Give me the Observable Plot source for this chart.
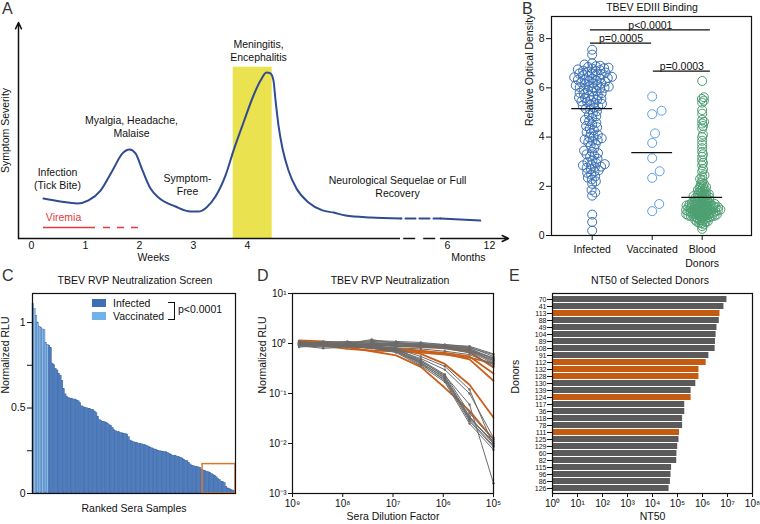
<!DOCTYPE html>
<html><head><meta charset="utf-8">
<script src="https://cdn.jsdelivr.net/npm/d3@7"></script>
<script src="https://cdn.jsdelivr.net/npm/@observablehq/plot@0.6"></script>
<style>
body{margin:0;background:#fff;font-family:"Liberation Sans",Arial,sans-serif;}
#fig{position:relative;width:760px;height:524px;overflow:hidden;background:#fff;}
.plet{position:absolute;font-size:16px;color:#333;line-height:1;}
.ttl{position:absolute;font-size:10.5px;color:#111;transform:translate(-50%,-50%);white-space:nowrap;line-height:1;}
.leg{position:absolute;font-size:10.5px;color:#111;line-height:1;transform:translateY(-50%);white-space:nowrap;}
.sw{position:absolute;}
svg{position:absolute;overflow:visible;}
</style></head><body><div id="fig"></div>
<script>
// ---------------- DATA ----------------
// Panel A (schematic disease course), x in weeks, y in arbitrary severity units
const aCurveWeek = [0.222,0.537,0.852,1.056,1.278,1.5,1.685,1.815,1.926,2.056,2.204,2.352,2.667,2.944,3.093,3.241,3.407,3.593,3.741,3.926,4.111,4.241,4.352,4.426,4.481,4.519,4.574,4.648,4.759,4.907,5.13,5.389,5.593,5.815,6.278,6.833];
const aCurveSev  = [1.85,1.71,1.62,1.76,2.22,3.15,3.94,4.12,3.94,3.15,2.31,1.90,1.48,1.25,1.25,1.44,1.94,2.92,4.07,5.37,6.62,7.31,7.69,7.64,7.31,6.39,5.23,4.17,3.15,2.31,1.67,1.30,1.20,1.06,0.97,0.93];
const aTailWeek = [7.574, 8.31];
const aTailSev  = [0.93, 0.83];
const aPhaseWeeks = [3.735, 4.457];   // meningitis/encephalitis phase
const aPhaseTop = 7.93;
const aViremiaSolid = [0.222, 1.185];
const aViremiaDashed = [1.333, 1.98];
const aViremiaLevel = 0.51;
const aAxisBreak = [6.833, 7.574];
const aXDomain = [-0.2407, 8.833];
const aTickPos = [0,1,2,3,4,7.7,8.48];
const aTickLabels = ["0","1","2","3","4","6","12"];
const aNoteText = ["Meningitis,\nEncephalitis","Myalgia, Headache,\nMalaise","Infection\n(Tick Bite)","Symptom-\nFree","Neurological Sequelae or Full\nRecovery"];
const aNoteWeek = [4.204, 1.852, 0.481, 2.889, 6.778];
const aNoteSev  = [8.73, 5.21, 2.80, 2.52, 2.43];

// Panel B (EDIII binding)
const bGroupLabels = ["Infected","Vaccinated","Blood\nDonors"];
const bGroupPos = [1, 2, 2.833];
const bInfected = [7.55,7.35,7.0,
 6.95,6.9,6.88,6.85,6.82,6.8,6.78,6.75,6.72,6.7,6.68,6.65,6.62,6.6,6.58,6.55,6.52,6.5,
 6.48,6.45,6.43,6.4,6.38,6.35,6.33,6.3,6.28,6.25,6.22,6.2,6.18,6.15,6.12,6.1,6.08,6.05,6.03,6.02,6.0,6.38,
 5.98,5.95,5.9,5.88,5.85,5.8,5.78,5.75,5.7,5.68,5.65,5.6,5.58,5.55,5.52,5.5,
 5.45,5.42,5.38,5.35,5.3,5.28,5.25,5.2,5.15,5.12,
 5.05,4.98,4.9,4.85,4.78,4.7,4.65,4.58,4.52,
 4.45,4.4,4.35,4.28,4.2,4.15,4.1,4.02,
 3.98,3.95,3.9,3.88,3.85,3.8,3.72,3.65,3.55,
 3.45,3.4,3.35,3.3,3.25,3.2,3.12,3.05,
 2.98,2.95,2.9,2.88,2.85,2.8,2.78,2.75,2.7,2.65,2.6,2.55,
 2.48,2.4,2.35,2.28,2.2,2.1,
 1.85,1.75,1.62,
 0.85,0.55,0.2];
const bVaccinated = [5.65,4.93,5.07,4.15,3.76,3.14,2.34,2.61,1.28,0.99];
const bDonors = [6.28,5.62,5.55,5.48,5.4,5.1,4.95,4.7,4.62,4.55,4.45,4.35,4.1,4.0,3.85,3.7,3.55,3.4,3.3,3.2,3.05,2.95,2.85,2.7,2.6,2.45,2.4,2.3,2.25,2.15,2.1,2.05,
 2.0,1.97,1.94,1.9,1.88,1.85,1.82,1.8,1.77,1.74,1.72,
 1.7,1.68,1.66,1.64,1.62,1.6,1.58,1.56,1.55,1.53,1.51,1.5,1.48,1.46,1.45,1.43,1.42,1.4,1.38,1.37,1.35,1.34,1.32,1.31,1.3,
 1.29,1.28,1.27,1.26,1.25,1.24,1.23,1.22,1.21,1.2,1.19,1.18,1.17,1.16,1.15,1.14,1.13,1.12,1.11,1.1,1.09,1.08,1.07,1.06,1.05,1.04,1.03,1.02,1.01,1.0,0.99,0.98,0.97,0.96,0.95,0.94,0.93,0.92,0.91,0.9,1.12,1.05,0.98,1.18,1.02,
 0.89,0.88,0.87,0.86,0.85,0.84,0.83,0.82,0.81,0.8,0.79,0.78,0.77,0.76,0.75,0.74,0.72,0.7,0.68,0.66,0.64,0.62,0.6,0.58,0.56,0.54,0.52,0.5,0.85,0.78,
 0.45,0.38,0.27];
const bCenterLines = [5.16, 3.37, 1.55];
const bSigLabels = ["p<0.0001","p=0.0005","p=0.0003"];
const bSigFrom = [0.97, 0.97, 2.02];
const bSigTo   = [2.97, 1.99, 2.97];
const bSigY    = [8.36, 7.82, 6.68];

// Panel C (ranked neutralization screen)
const cValues = [1.11,1.08,1.04,1.0,0.975,0.97,0.96,0.955,0.88,0.87,0.865,0.85,0.76,0.75,0.73,0.72,0.70,0.69,0.66,0.61,
 0.58,0.565,0.56,0.555,0.555,0.55,0.55,0.545,0.54,0.53,0.51,0.505,0.50,0.50,0.495,0.495,0.49,0.49,0.48,0.47,
 0.45,0.43,0.425,0.42,0.418,0.415,0.41,0.40,0.395,0.385,0.37,0.365,0.36,0.358,0.355,0.352,0.35,0.348,0.345,0.33,
 0.31,0.305,0.30,0.298,0.295,0.292,0.29,0.288,0.285,0.282,0.28,0.275,0.27,0.265,0.26,0.258,0.255,0.25,0.248,0.246,
 0.245,0.243,0.241,0.238,0.232,0.228,0.222,0.22,0.218,0.215,0.212,0.21,0.205,0.198,0.192,0.19,0.18,0.17,0.163,0.16,
 0.157,0.155,0.153,0.15,0.14,0.135,0.132,0.128,0.124,0.122,0.115,0.108,0.104,0.095,0.085,0.08,0.07,0.066,0.062,0.04,
 0.03,0.027,0.022,0.018,0.015];
const cVaccinatedRanks = [0,1,2,3,4,5,6,7,8,9];
const cHighlight = {from: 104.7, to: 125, top: 0.172};

// Panel D (neutralization curves)
const dDilutions = [7.4e8, 2.45e8, 8.1e7, 2.65e7, 8.7e6, 2.8e6, 9.3e5, 3.0e5, 1e5];
const dGray = [
 [1.0,0.95,0.93,0.9,0.75,0.45,0.22,0.035,0.010],
 [0.95,1.0,0.9,0.85,0.7,0.42,0.2,0.03,0.009],
 [1.05,0.98,0.95,0.88,0.72,0.40,0.18,0.028,0.0085],
 [0.9,0.92,0.88,0.8,0.68,0.38,0.19,0.032,0.011],
 [1.1,1.0,0.97,0.92,0.78,0.47,0.24,0.04,0.012],
 [0.98,0.9,0.85,0.82,0.66,0.36,0.17,0.025,0.0075],
 [1.0,0.96,0.9,0.86,0.7,0.44,0.23,0.06,0.0016],
 [0.92,0.94,0.9,0.84,0.74,0.5,0.3,0.1,0.013],
 [1.02,0.97,0.92,0.9,0.8,0.55,0.35,0.12,0.009],
 [0.96,0.93,0.89,0.86,0.7,0.41,0.21,0.033,0.010],
 [1.05,1.0,0.98,1.1,1.05,1.0,0.95,0.85,0.55],
 [1.0,0.95,1.0,1.2,1.0,0.98,0.9,0.8,0.5],
 [0.95,1.1,1.05,1.0,1.02,0.95,0.92,0.82,0.6],
 [1.1,1.0,0.95,0.95,0.9,0.9,0.85,0.75,0.45],
 [0.9,0.85,0.9,1.0,0.98,0.92,0.88,0.78,0.48],
 [1.0,1.05,1.1,1.05,1.0,0.95,0.9,0.7,0.4],
 [1.05,0.97,0.92,0.95,0.92,0.88,0.8,0.65,0.35],
 [0.85,0.9,0.95,0.9,0.88,0.85,0.82,0.72,0.52],
 [1.0,1.0,1.0,1.15,1.1,1.05,0.95,0.88,0.62],
 [0.95,0.92,0.88,0.85,0.82,0.78,0.7,0.6,0.38],
 [1.02,0.98,0.96,0.98,0.95,0.9,0.85,0.75,0.42],
 [0.9,0.8,0.85,0.92,0.9,0.87,0.83,0.7,0.46]];
const dOrange = [
 [1.1,1.05,0.85,0.7,0.58,0.34,0.13,0.045,0.012],
 [1.0,0.95,0.9,0.85,0.78,0.62,0.39,0.15,0.033],
 [1.15,1.1,0.95,0.85,0.8,0.72,0.62,0.48,0.18],
 [1.05,1.0,0.9,0.8,0.75,0.7,0.65,0.55,0.25],
 [1.1,1.08,1.0,0.95,0.9,0.85,0.8,0.68,0.33],
 [0.95,0.9,0.78,0.72,0.7,0.66,0.6,0.52,0.4]];

// Panel E (NT50)
const eDonors = ["70","41","113","88","49","104","89","108","91","112","132","128","130","139","124","117","36","118","78","111","125","129","60","82","115","96","86","126"];
const eNT50 = [9.5e6,7.2e6,5.0e6,4.7e6,3.8e6,3.5e6,3.3e6,3.2e6,1.8e6,1.4e6,7.2e5,7.2e5,5.4e5,3.5e5,3.5e5,1.95e5,1.95e5,1.6e5,1.6e5,1.2e5,1.15e5,1.02e5,9.5e4,9.3e4,5.8e4,5.5e4,5.2e4,4.6e4];
const eSelected = ["113","112","132","128","124","111"];

// ---------------- HELPERS ----------------
const FONT = "Liberation Sans, Arial, Helvetica, sans-serif";
const INK = "#111";
const ORANGE = "#c8601c";
const baseStyle = {fontFamily: FONT, fontSize: "10.5px", color: INK, background: "none", overflow: "visible"};
const fig = document.getElementById("fig");
function put(el, left, top){ el.style.left = left+"px"; el.style.top = top+"px"; fig.appendChild(el); return el; }
function div(cls, text, left, top, extra){ const d = document.createElement("div"); d.className = cls; d.textContent = text; if (extra) Object.assign(d.style, extra); return put(d, left, top); }
const supMap = {"-":"⁻","0":"⁰","1":"¹","2":"²","3":"³","4":"⁴","5":"⁵","6":"⁶","7":"⁷","8":"⁸","9":"⁹"};
const pow10 = d => "10" + String(Math.round(Math.log10(d))).split("").map(c => supMap[c]).join("");

// ---------------- PANEL A ----------------
const aCurve = aCurveWeek.map((w,i)=>({w, s:aCurveSev[i]}));
const aTail = aTailWeek.map((w,i)=>({w, s:aTailSev[i]}));
const aGap = [aCurve[aCurve.length-1], aTail[0]];
const aNotes = aNoteText.map((t,i)=>({t, w:aNoteWeek[i], s:aNoteSev[i]}));
const aLabelMap = new Map(aTickPos.map((p,i)=>[p, aTickLabels[i]]));
const BLUE = "#2f4c91";
const plotA = Plot.plot({
  width: 515, height: 262, marginLeft: 18, marginRight: 7, marginTop: 22, marginBottom: 24,
  x: {domain: aXDomain, axis: null}, y: {domain: [0, 10], axis: null},
  style: baseStyle,
  marks: [
    Plot.rect([0], {x1: aPhaseWeeks[0], x2: aPhaseWeeks[1], y1: 0, y2: aPhaseTop, fill: "#ebe24f"}),
    Plot.line(aCurve, {x: "w", y: "s", curve: "monotone-x", stroke: BLUE, strokeWidth: 2}),
    Plot.line(aGap, {x: "w", y: "s", stroke: BLUE, strokeWidth: 2, strokeDasharray: "10,4", strokeDashoffset: -5}),
    Plot.line(aTail, {x: "w", y: "s", stroke: BLUE, strokeWidth: 2}),
    Plot.ruleY([aViremiaLevel], {x1: aViremiaSolid[0], x2: aViremiaSolid[1], stroke: "#e0393e", strokeWidth: 1.5}),
    Plot.ruleY([aViremiaLevel], {x1: aViremiaDashed[0], x2: aViremiaDashed[1], stroke: "#e0393e", strokeWidth: 1.5, strokeDasharray: "7,7"}),
    Plot.text(["Viremia"], {x: 0.593, y: 0.97, text: d => d, fill: "#e0393e", fontSize: 10.5}),
    Plot.ruleY([0], {x1: aXDomain[0], x2: aAxisBreak[0], stroke: INK, strokeWidth: 1.5}),
    Plot.ruleY([0], {x1: aAxisBreak[0] + 0.06, x2: aAxisBreak[1] - 0.04, stroke: INK, strokeWidth: 1.5, strokeDasharray: "12,8"}),
    Plot.arrow([0], {x1: aAxisBreak[1], x2: aXDomain[1], y1: 0, y2: 0, stroke: INK, strokeWidth: 1.5, headLength: 7, headAngle: 50}),
    Plot.arrow([0], {x1: aXDomain[0], x2: aXDomain[0], y1: 0, y2: 10, stroke: INK, strokeWidth: 1.5, headLength: 7, headAngle: 50}),
    Plot.axisX({ticks: aTickPos, tickFormat: d => aLabelMap.get(d), tickSize: 0, tickPadding: 3, fontSize: 10.5, label: null}),
    Plot.text(["Weeks"], {x: 2.26, y: -0.88, text: d => d, fontSize: 10.5}),
    Plot.text(["Months"], {x: 8.09, y: -0.88, text: d => d, fontSize: 10.5}),
    Plot.text(["Symptom Severity"], {x: -0.481, y: 5.0, text: d => d, rotate: -90, fontSize: 10.5}),
    Plot.text(aNotes, {x: "w", y: "s", text: "t", lineHeight: 1.25, fontSize: 10.5})
  ]
});
put(plotA, 0, 0);

// ---------------- PANEL B ----------------
const bXDomain = [0.322, 3.655];
const bYDomain = [0, 8.9];
const bPxPerX = 200 / (bXDomain[1] - bXDomain[0]);
const bPxPerY = 219 / (bYDomain[1] - bYDomain[0]);
function swarm(values, diam){
  const pts = values.map(v => ({v, y: v * bPxPerY, x: 0}));
  const order = [...pts].sort((a,b) => a.y - b.y);
  const placed = [];
  for (const p of order){
    const near = placed.filter(q => Math.abs(q.y - p.y) < diam);
    const cands = [0];
    for (const q of near){ const dx = Math.sqrt(diam*diam - (q.y-p.y)**2); cands.push(q.x + dx, q.x - dx); }
    cands.sort((a,b) => Math.abs(a) - Math.abs(b));
    for (const c of cands){ if (near.every(q => (q.x-c)**2 + (q.y-p.y)**2 >= diam*diam - 1e-6)) { p.x = c; break; } }
    placed.push(p);
  }
  return pts.map(p => p.x / bPxPerX);
}
const bSets = [bInfected, bVaccinated, bDonors];
const bDiams = [4.4, 10, 2.6];
const bStroke = ["#3b71b7", "#5d9fe0", "#4c9f71"];
const bPoints = bSets.flatMap((vals, g) => { const off = swarm(vals, bDiams[g]); return vals.map((v,i) => ({g, x: bGroupPos[g] + off[i], v})); });
const bSig = bSigLabels.map((t,i) => ({t, x1: bSigFrom[i], x2: bSigTo[i], y: bSigY[i]}));
const bCenters = bCenterLines.map((v,g) => ({g, v}));
const bLabelMap = new Map(bGroupPos.map((p,i) => [p, bGroupLabels[i]]));
const plotB = Plot.plot({
  width: 260, height: 272, marginLeft: 51, marginRight: 9, marginTop: 16, marginBottom: 37,
  x: {domain: bXDomain, axis: null}, y: {domain: bYDomain, axis: null},
  style: baseStyle,
  marks: [
    Plot.dot(bPoints, {x: "x", y: "v", r: 4.5, stroke: d => bStroke[d.g], strokeWidth: 1, fill: "none"}),
    Plot.ruleY(bCenters, {y: "v", x1: d => bGroupPos[d.g] - 0.34, x2: d => bGroupPos[d.g] + 0.34, stroke: INK, strokeWidth: 1.3}),
    Plot.ruleY(bSig, {y: "y", x1: "x1", x2: "x2", stroke: INK, strokeWidth: 1.2}),
    Plot.text(bSig, {x: d => (d.x1 + d.x2)/2, y: "y", text: "t", lineAnchor: "bottom", dy: -1, fontSize: 10.5}),
    Plot.frame({stroke: INK, strokeWidth: 1.2}),
    Plot.axisY({ticks: [0,2,4,6,8], tickSize: 5, tickPadding: 2, fontSize: 10.5, label: null}),
    Plot.axisX({ticks: bGroupPos, tickFormat: d => bLabelMap.get(d), tickSize: 5, tickPadding: 3, lineHeight: 1.3, fontSize: 10.5, label: null}),
    Plot.text(["Relative Optical Density"], {frameAnchor: "left", dx: -22, rotate: -90, text: d => d, fontSize: 10.5})
  ]
});
put(plotB, 500, 0);

// ---------------- PANEL C ----------------
const cData = cValues.map((v,i) => ({rank: i, value: v, group: cVaccinatedRanks.includes(i) ? "Vaccinated" : "Infected"}));
const cTickLabel = new Map([[0,"0"],[0.5,"0.5"],[1,"1"]]);
const plotC = Plot.plot({
  width: 255, height: 239, marginLeft: 32, marginRight: 20, marginTop: 8, marginBottom: 31,
  x: {domain: [0, cValues.length], axis: null}, y: {domain: [0, 1.17], axis: null},
  color: {domain: ["Infected","Vaccinated"], range: ["#4f7ec1","#86baea"]},
  style: baseStyle,
  marks: [
    Plot.rectY(cData, {x1: "rank", x2: d => d.rank + 1, y1: 0, y2: "value", fill: "group", stroke: "#36609f", strokeWidth: 0.35}),
    Plot.rect([cHighlight], {x1: "from", x2: "to", y1: 0, y2: "top", fill: "none", stroke: "#d9782d", strokeWidth: 1.5}),
    Plot.frame({stroke: INK, strokeWidth: 1.2}),
    Plot.axisY({ticks: [0,0.25,0.5,0.75,1], tickFormat: d => cTickLabel.get(d) ?? "", tickSize: 5, tickPadding: 2, fontSize: 10.5, label: null}),
    Plot.text(["Ranked Sera Samples"], {frameAnchor: "bottom", dy: 18, text: d => d, fontSize: 10.5}),
    Plot.text(["Normalized RLU"], {frameAnchor: "left", dx: -27, rotate: -90, text: d => d, fontSize: 10.5})
  ]
});
put(plotC, 0, 285);

// legend for C
const cLegColors = ["#3e6fb4", "#72b2ec"];
const cLegNames = ["Infected", "Vaccinated"];
cLegNames.forEach((n,i) => {
  const sw = document.createElement("div"); sw.className = "sw";
  Object.assign(sw.style, {width: "14px", height: "8px", background: cLegColors[i]});
  put(sw, 92, 299 + i*13);
  div("leg", n, 113, 303 + i*13);
});
const br = document.createElement("div"); br.className = "sw";
Object.assign(br.style, {width: "6px", height: "16px", borderTop: "1.2px solid #111", borderRight: "1.2px solid #111", borderBottom: "1.2px solid #111"});
put(br, 168, 302);
div("leg", "p<0.0001", 178, 309);

// ---------------- PANEL D ----------------
const dSeries = [...dGray.map((vals,k) => ({id: "g"+k, sel: false, vals})), ...dOrange.map((vals,k) => ({id: "o"+k, sel: true, vals}))];
const dLong = dSeries.flatMap(s => s.vals.map((v,j) => ({id: s.id, sel: s.sel, dil: dDilutions[j], rlu: v})));
const plotD = Plot.plot({
  width: 252, height: 239, marginLeft: 34, marginRight: 17, marginTop: 8, marginBottom: 31,
  x: {type: "log", domain: [1e9, 1e5], axis: null},
  y: {type: "log", domain: [1e-3, 10], axis: null},
  style: baseStyle,
  marks: [
    Plot.line(dLong.filter(d => d.sel), {x: "dil", y: "rlu", z: "id", stroke: ORANGE, strokeWidth: 1.8}),
    Plot.line(dLong.filter(d => !d.sel), {x: "dil", y: "rlu", z: "id", stroke: "#6b6b6b", strokeWidth: 1}),
    Plot.dot(dLong.filter(d => !d.sel), {x: "dil", y: "rlu", r: 1.2, fill: "#6b6b6b"}),
    Plot.frame({stroke: INK, strokeWidth: 1.2}),
    Plot.axisY({ticks: [10,1,0.1,0.01,0.001], tickFormat: pow10, tickSize: 4, tickPadding: 2, fontSize: 10, label: null}),
    Plot.axisX({ticks: [1e9,1e8,1e7,1e6,1e5], tickFormat: pow10, tickSize: 4, tickPadding: 2, fontSize: 10, label: null}),
    Plot.text(["Sera Dilution Factor"], {frameAnchor: "bottom", dy: 26, text: d => d, fontSize: 10.5}),
    Plot.text(["Normalized RLU"], {frameAnchor: "left", dx: -30, rotate: -90, text: d => d, fontSize: 10.5})
  ]
});
put(plotD, 258, 285);

// ---------------- PANEL E ----------------
const eData = eDonors.map((d,i) => ({donor: d, nt50: eNT50[i], sel: eSelected.includes(d)}));
const plotE = Plot.plot({
  width: 250, height: 239, marginLeft: 42, marginRight: 8, marginTop: 8, marginBottom: 31,
  x: {type: "log", domain: [1, 1e8], axis: null},
  y: {domain: eDonors, padding: 0.18, axis: null},
  style: baseStyle,
  marks: [
    Plot.barX(eData, {x1: 1, x2: "nt50", y: "donor", fill: d => d.sel ? "#c55a11" : "#5a5a5a"}),
    Plot.frame({stroke: INK, strokeWidth: 1.2}),
    Plot.axisY({tickSize: 5, tickPadding: 1, fontSize: 7, label: null}),
    Plot.axisX({ticks: d3.range(0, 9).map(k => 10 ** k), tickFormat: pow10, tickSize: 4, tickPadding: 2, fontSize: 10, label: null}),
    Plot.text(["NT50"], {frameAnchor: "bottom", dy: 26, text: d => d, fontSize: 10.5}),
    Plot.text(["Donors"], {frameAnchor: "left", dx: -37, rotate: -90, text: d => d, fontSize: 10.5})
  ]
});
put(plotE, 510, 285);

// ---------------- TITLES & PANEL LETTERS ----------------
div("ttl", "TBEV EDIII Binding", 652, 7);
div("ttl", "TBEV RVP Neutralization Screen", 135, 280);
div("ttl", "TBEV RVP Neutralization", 390, 280);
div("ttl", "NT50 of Selected Donors", 650, 280);
div("plet", "A", 2, 1);
div("plet", "B", 522, 1);
div("plet", "C", 2, 268);
div("plet", "D", 257, 268);
div("plet", "E", 509, 268);
</script></body></html>
